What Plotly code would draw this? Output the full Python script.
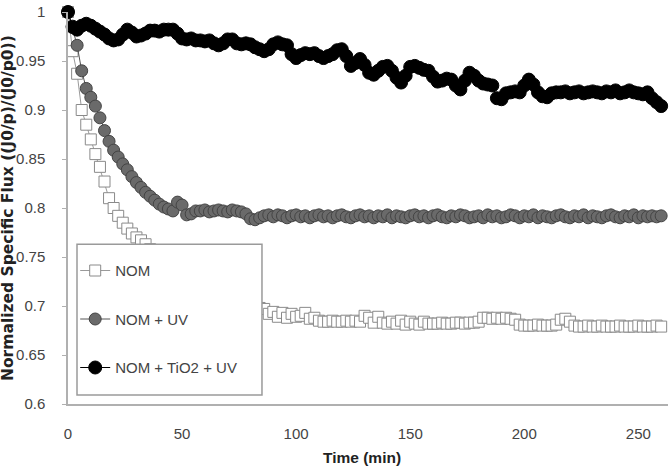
import plotly.graph_objects as go

time_min = [0, 2, 4, 6, 8, 10, 12, 14, 16, 18,
            20, 22, 24, 26, 28, 30, 32, 34, 36, 38,
            40, 42, 44, 46, 48, 50, 52, 54, 56, 58,
            60, 62, 64, 66, 68, 70, 72, 74, 76, 78,
            80, 82, 84, 86, 88, 90, 92, 94, 96, 98,
            100, 102, 104, 106, 108, 110, 112, 114, 116, 118,
            120, 122, 124, 126, 128, 130, 132, 134, 136, 138,
            140, 142, 144, 146, 148, 150, 152, 154, 156, 158,
            160, 162, 164, 166, 168, 170, 172, 174, 176, 178,
            180, 182, 184, 186, 188, 190, 192, 194, 196, 198,
            200, 202, 204, 206, 208, 210, 212, 214, 216, 218,
            220, 222, 224, 226, 228, 230, 232, 234, 236, 238,
            240, 242, 244, 246, 248, 250, 252, 254, 256, 258,
            260]

nom = [1.000, 0.960, 0.937, 0.900, 0.885, 0.870, 0.855, 0.842, 0.827, 0.810,
       0.800, 0.792, 0.785, 0.779, 0.774, 0.770, 0.767, 0.763, 0.758, 0.752,
       0.746, 0.741, 0.736, 0.731, 0.727, 0.723, 0.720, 0.717, 0.714, 0.712,
       0.710, 0.708, 0.706, 0.705, 0.703, 0.702, 0.701, 0.700, 0.699, 0.698,
       0.697, 0.696, 0.698, 0.697, 0.692, 0.694, 0.689, 0.693, 0.688, 0.692,
       0.689, 0.690, 0.693, 0.687, 0.688, 0.685, 0.684, 0.684, 0.685, 0.684,
       0.684, 0.685, 0.684, 0.685, 0.684, 0.690, 0.688, 0.683, 0.689, 0.683,
       0.682, 0.684, 0.682, 0.685, 0.681, 0.684, 0.682, 0.681, 0.684, 0.682,
       0.682, 0.682, 0.683, 0.682, 0.682, 0.683, 0.683, 0.682, 0.683, 0.683,
       0.684, 0.688, 0.688, 0.687, 0.688, 0.687, 0.688, 0.687, 0.686, 0.681,
       0.680, 0.680, 0.680, 0.681, 0.680, 0.680, 0.680, 0.681, 0.686, 0.687,
       0.684, 0.680, 0.679, 0.679, 0.680, 0.679, 0.679, 0.680, 0.679, 0.679,
       0.679, 0.680, 0.679, 0.679, 0.679, 0.680, 0.679, 0.679, 0.679, 0.680,
       0.679]

nom_uv = [1.000, 0.984, 0.966, 0.940, 0.922, 0.913, 0.904, 0.892, 0.879, 0.868,
          0.859, 0.852, 0.845, 0.839, 0.832, 0.826, 0.821, 0.816, 0.812, 0.808,
          0.804, 0.801, 0.799, 0.797, 0.806, 0.803, 0.793, 0.794, 0.797, 0.797,
          0.798, 0.796, 0.797, 0.798, 0.797, 0.796, 0.798, 0.797, 0.796, 0.794,
          0.789, 0.788, 0.790, 0.792, 0.793, 0.791, 0.793, 0.792, 0.790, 0.792,
          0.793, 0.791, 0.792, 0.790, 0.792, 0.793, 0.791, 0.792, 0.790, 0.792,
          0.793, 0.791, 0.790, 0.792, 0.793, 0.791, 0.792, 0.790, 0.792, 0.791,
          0.793, 0.790, 0.792, 0.791, 0.790, 0.792, 0.793, 0.791, 0.792, 0.790,
          0.792, 0.793, 0.791, 0.790, 0.792, 0.791, 0.793, 0.792, 0.790, 0.791,
          0.792, 0.790, 0.793, 0.791, 0.792, 0.790, 0.791, 0.793, 0.792, 0.790,
          0.792, 0.791, 0.793, 0.790, 0.792, 0.791, 0.790, 0.792, 0.793, 0.791,
          0.790, 0.792, 0.791, 0.793, 0.790, 0.792, 0.791, 0.790, 0.792, 0.793,
          0.791, 0.790, 0.792, 0.791, 0.793, 0.790, 0.792, 0.791, 0.792, 0.791,
          0.792]

nom_tio2_uv = [1.000, 0.985, 0.982, 0.986, 0.988, 0.986, 0.983, 0.980, 0.977, 0.973,
               0.971, 0.972, 0.977, 0.982, 0.979, 0.975, 0.976, 0.978, 0.981, 0.981,
               0.980, 0.982, 0.982, 0.982, 0.978, 0.973, 0.972, 0.973, 0.971, 0.971,
               0.970, 0.971, 0.968, 0.966, 0.968, 0.972, 0.972, 0.968, 0.967, 0.968,
               0.967, 0.964, 0.962, 0.960, 0.962, 0.967, 0.969, 0.967, 0.966, 0.957,
               0.953, 0.956, 0.958, 0.957, 0.958, 0.955, 0.953, 0.955, 0.957, 0.961,
               0.962, 0.955, 0.945, 0.948, 0.952, 0.946, 0.938, 0.936, 0.940, 0.944,
               0.945, 0.940, 0.933, 0.928, 0.935, 0.944, 0.945, 0.943, 0.941, 0.940,
               0.934, 0.929, 0.930, 0.932, 0.931, 0.925, 0.921, 0.930, 0.938, 0.935,
               0.930, 0.927, 0.926, 0.925, 0.912, 0.911, 0.917, 0.918, 0.919, 0.918,
               0.925, 0.931, 0.926, 0.918, 0.914, 0.913, 0.917, 0.918, 0.918, 0.919,
               0.917, 0.918, 0.919, 0.917, 0.918, 0.919, 0.918, 0.917, 0.919, 0.918,
               0.920, 0.917, 0.918, 0.920, 0.918, 0.917, 0.916, 0.918, 0.912, 0.908,
               0.904]

y_tickvals = [0.6, 0.65, 0.7, 0.75, 0.8, 0.85, 0.9, 0.95, 1.0]
y_ticktext = ["0.6", "0.65", "0.7", "0.75", "0.8", "0.85", "0.9", "0.95", "1"]
x_tickvals = [0, 50, 100, 150, 200, 250]

FONT = "Liberation Sans, Arial, sans-serif"
TITLE_FONT = "DejaVu Sans, sans-serif"

fig = go.Figure()
fig.add_trace(go.Scatter(
    x=time_min, y=nom, name="NOM", mode="lines+markers", legendgroup="a",
    line=dict(color="#9a9a9a", width=1),
    marker=dict(symbol="square", size=11, color="white",
                line=dict(color="#8a8a8a", width=1)),
    cliponaxis=False))
fig.add_trace(go.Scatter(
    x=time_min, y=nom_uv, name="NOM + UV", mode="lines+markers", legendgroup="b",
    line=dict(color="#555555", width=1),
    marker=dict(symbol="circle", size=12, color="#6a6a6a",
                line=dict(color="#444444", width=1)),
    cliponaxis=False))
fig.add_trace(go.Scatter(
    x=time_min, y=nom_tio2_uv, name="NOM + TiO2 + UV", mode="lines+markers", legendgroup="c",
    line=dict(color="#000000", width=1),
    marker=dict(symbol="circle", size=13, color="#000000",
                line=dict(color="#000000", width=1)),
    cliponaxis=False))

# legend frame (white box with grey border)
fig.add_shape(type="rect", xref="paper", yref="paper",
              x0=0.015, x1=0.3233, y0=0.0228, y1=0.4076,
              fillcolor="white", line=dict(color="#9a9a9a", width=1.5),
              layer="above")

fig.add_annotation(text="<b>Normalized Specific Flux ((J0/p)/(J0/p0))</b>",
                   xref="paper", yref="paper", x=-0.1, y=0.5,
                   xanchor="center", yanchor="middle", textangle=-90,
                   showarrow=False, font=dict(family=TITLE_FONT, size=15.5, color="#222"))
fig.add_annotation(text="<b>Time (min)</b>",
                   xref="paper", yref="paper", x=0.49, y=-0.137,
                   xanchor="center", yanchor="middle",
                   showarrow=False, font=dict(family=FONT, size=15.5, color="#222"))

fig.update_layout(
    width=671, height=469,
    margin=dict(l=68, r=3, t=9, b=65),
    paper_bgcolor="white", plot_bgcolor="white",
    font=dict(family=FONT, size=15, color="#444"),
    showlegend=True,
    legend=dict(x=0.012, y=0.382, xanchor="left", yanchor="top",
                bgcolor="rgba(0,0,0,0)", borderwidth=0,
                tracegroupgap=26, itemwidth=30,
                font=dict(family=FONT, size=15, color="#444")),
    xaxis=dict(range=[0, 263], tickvals=x_tickvals, showgrid=False, zeroline=False,
               showline=True, linecolor="#b0b0b0", linewidth=1.5,
               ticks="", ticklabelstandoff=15,
               tickfont=dict(family=FONT, size=15, color="#444")),
    yaxis=dict(range=[0.6, 1.0], tickvals=y_tickvals, ticktext=y_ticktext,
               showgrid=False, zeroline=False,
               showline=True, linecolor="#b0b0b0", linewidth=1.5,
               ticks="outside", ticklen=4, tickcolor="#b0b0b0", ticklabelstandoff=14,
               tickfont=dict(family=FONT, size=15, color="#444")),
)

fig.write_html("out.html")
